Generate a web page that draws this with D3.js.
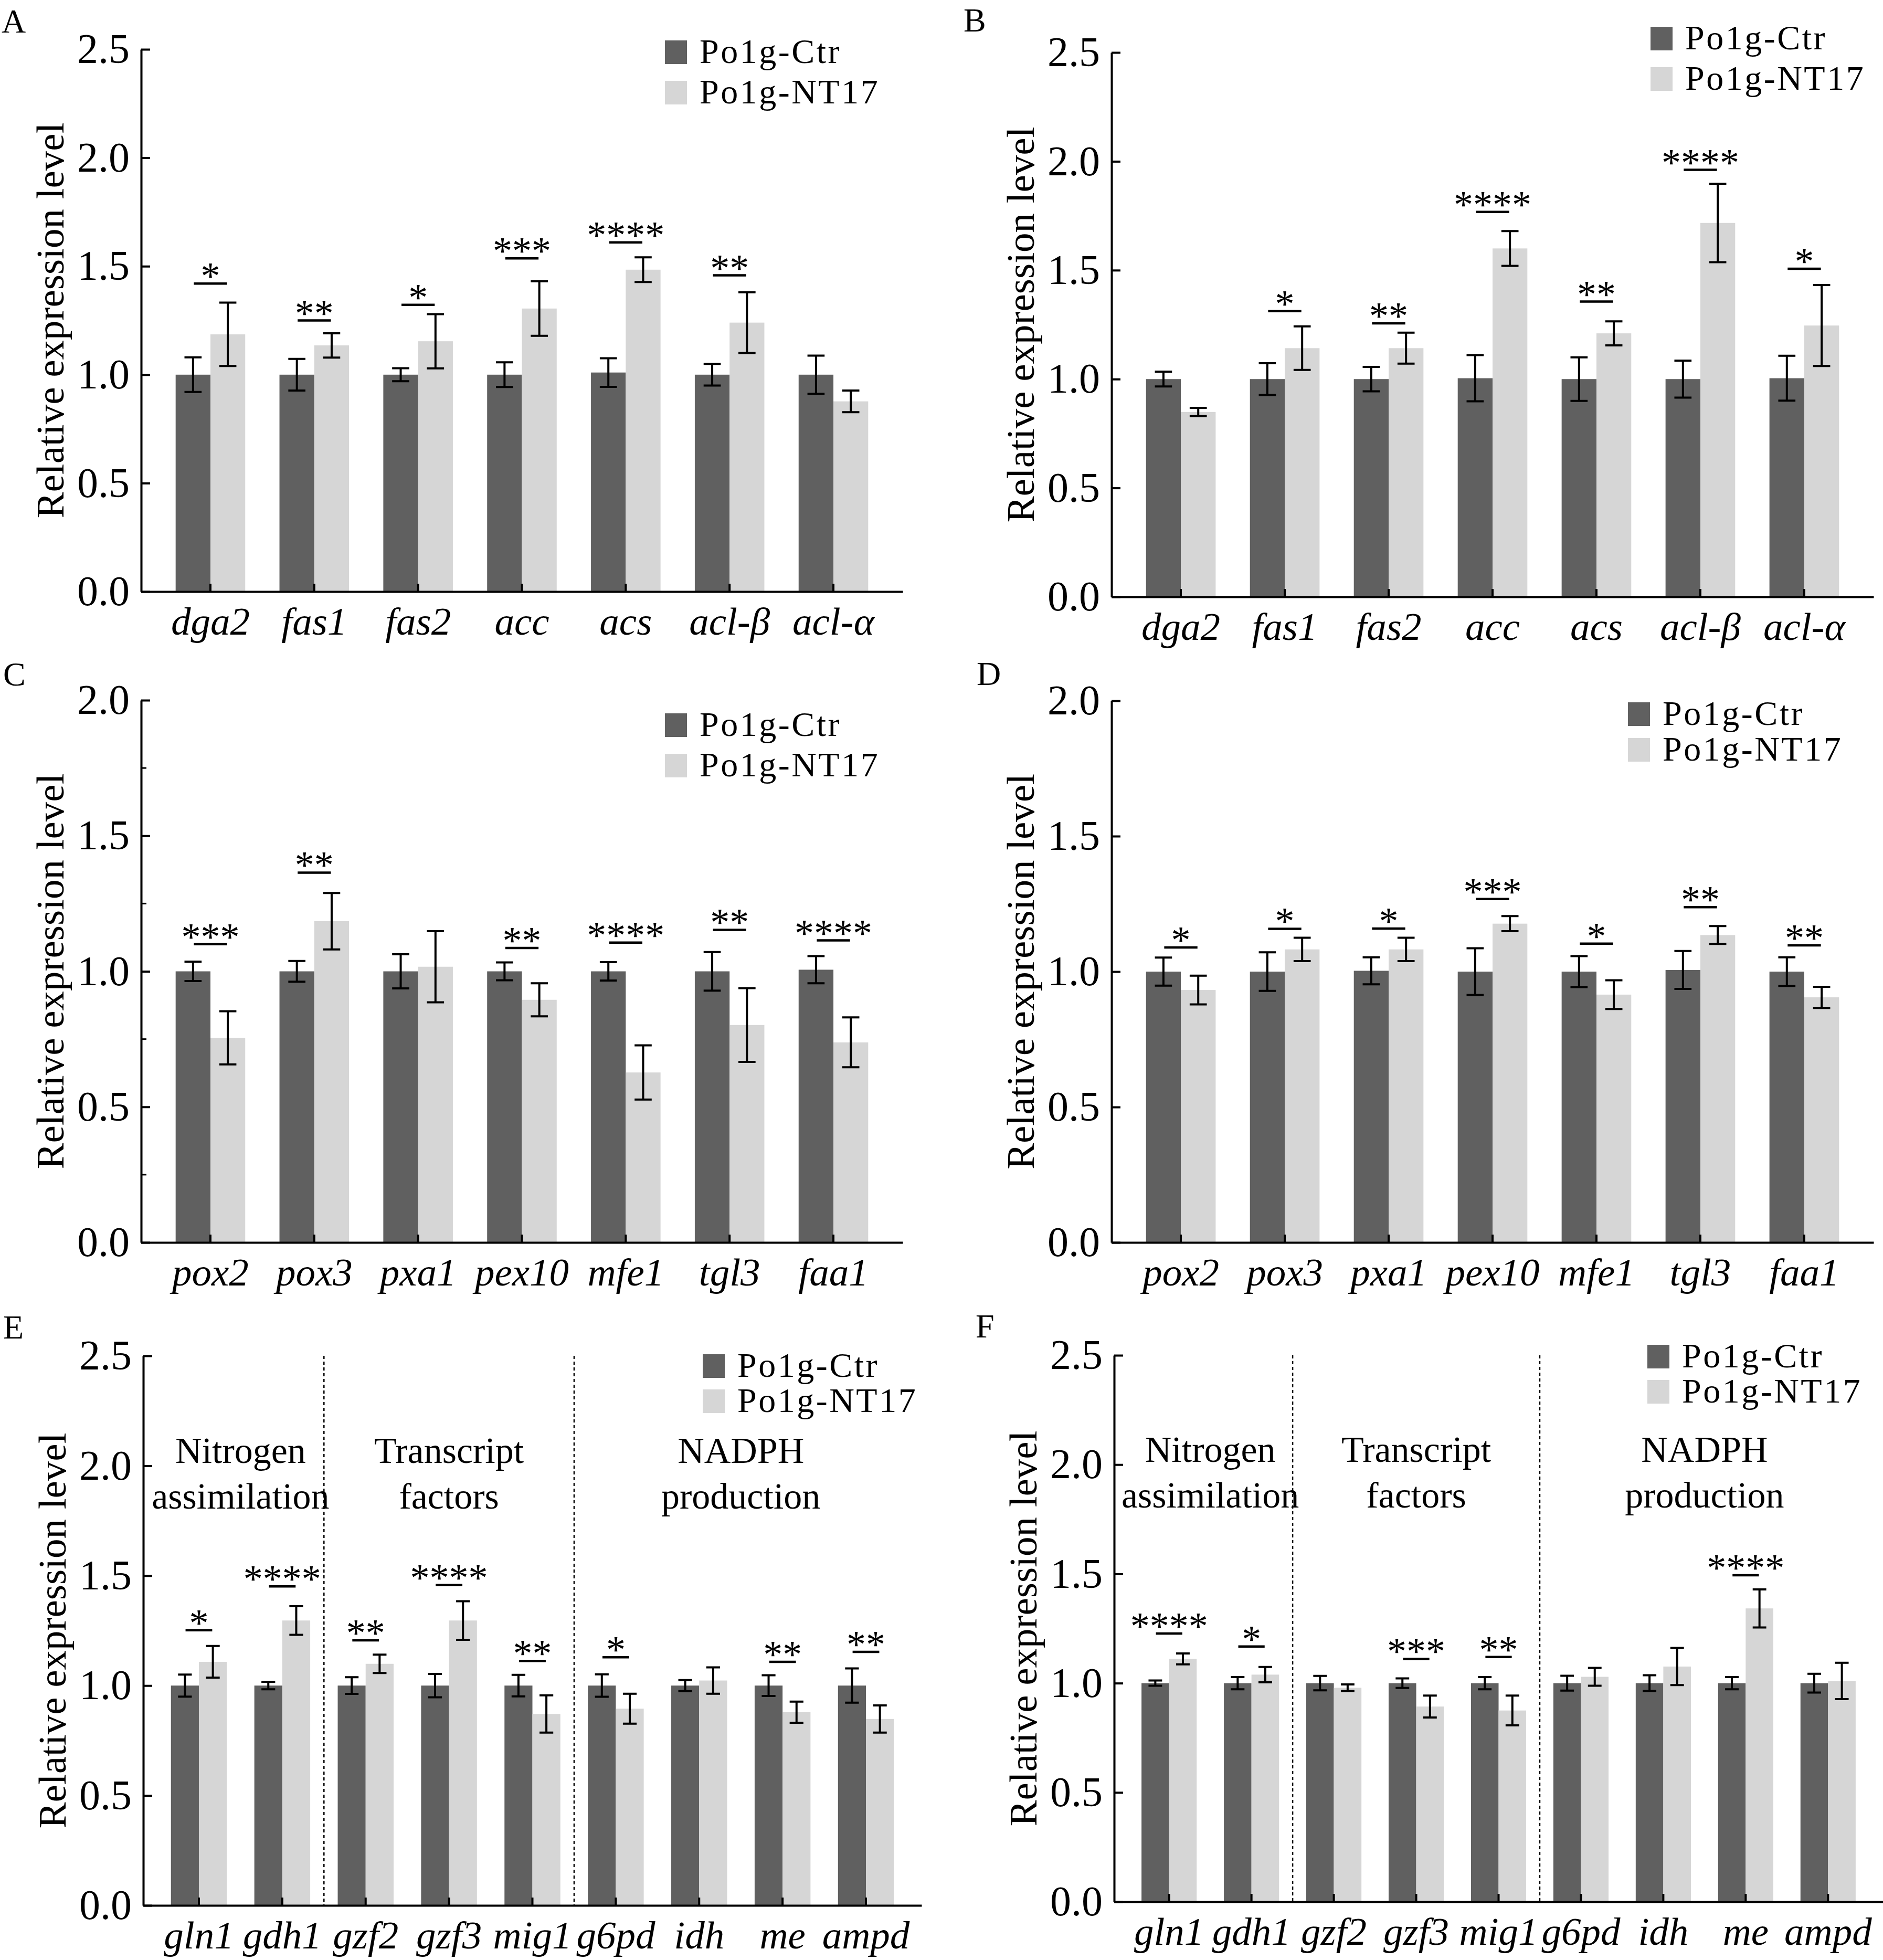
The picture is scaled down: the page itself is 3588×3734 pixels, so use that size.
<!DOCTYPE html>
<html>
<head>
<meta charset="utf-8">
<title>Relative expression</title>
<style>
  body { margin: 0; background: #fff; }
  svg, svg text { font-family: 'Liberation Serif', 'Times New Roman', Times, serif !important; }
  .tick line, .domain { stroke: #000; stroke-width: 4; }
</style>
</head>
<body>
<svg width="3588" height="3734" font-family="Liberation Serif, Times New Roman, serif"></svg>
<script src="https://d3js.org/d3.v7.min.js"></script>
<script>
// ---- data ----
const genesAB = ['dga2', 'fas1', 'fas2', 'acc', 'acs', 'acl-β', 'acl-α'];
const genesCD = ['pox2', 'pox3', 'pxa1', 'pex10', 'mfe1', 'tgl3', 'faa1'];
const genesEF = ['gln1', 'gdh1', 'gzf2', 'gzf3', 'mig1', 'g6pd', 'idh', 'me', 'ampd'];
const seriesNames = ['Po1g-Ctr', 'Po1g-NT17'];
const groupNames = [['Nitrogen', 'assimilation'], ['Transcript', 'factors'], ['NADPH', 'production']];
const groupSpans = [[0, 1], [2, 4], [5, 8]];
const ticks25 = [0, 0.5, 1.0, 1.5, 2.0, 2.5];
const ticks20 = [0, 0.5, 1.0, 1.5, 2.0];

const ctrA    = [1.00, 1.00, 1.00, 1.00, 1.01, 1.00, 1.00];
const ctrErrA = [0.080, 0.073, 0.030, 0.057, 0.066, 0.050, 0.088];
const ntA     = [1.186, 1.135, 1.154, 1.305, 1.484, 1.240, 0.877];
const ntErrA  = [0.146, 0.056, 0.125, 0.126, 0.057, 0.140, 0.050];
const sigA    = ['*', '**', '*', '***', '****', '**', ''];
const sigYA   = [1.42, 1.25, 1.322, 1.536, 1.61, 1.458, null];

const ctrB    = [1.00, 1.00, 1.00, 1.004, 1.00, 1.00, 1.004];
const ctrErrB = [0.034, 0.073, 0.056, 0.106, 0.100, 0.085, 0.103];
const ntB     = [0.849, 1.142, 1.142, 1.600, 1.210, 1.717, 1.246];
const ntErrB  = [0.019, 0.100, 0.071, 0.080, 0.055, 0.180, 0.186];
const sigB    = ['', '*', '**', '****', '**', '****', '*'];
const sigYB   = [null, 1.312, 1.256, 1.768, 1.356, 1.961, 1.507];

const ctrC    = [1.00, 1.00, 1.00, 1.00, 1.00, 1.00, 1.006];
const ctrErrC = [0.036, 0.038, 0.063, 0.033, 0.034, 0.071, 0.050];
const ntC     = [0.755, 1.185, 1.017, 0.895, 0.627, 0.802, 0.738];
const ntErrC  = [0.098, 0.104, 0.131, 0.061, 0.100, 0.136, 0.092];
const sigC    = ['***', '**', '', '**', '****', '**', '****'];
const sigYC   = [1.10, 1.364, null, 1.086, 1.106, 1.153, 1.114];

const ctrD    = [1.00, 1.00, 1.003, 1.00, 1.00, 1.006, 1.00];
const ctrErrD = [0.052, 0.071, 0.050, 0.086, 0.057, 0.070, 0.053];
const ntD     = [0.932, 1.082, 1.082, 1.177, 0.915, 1.135, 0.905];
const ntErrD  = [0.053, 0.043, 0.043, 0.028, 0.053, 0.033, 0.039];
const sigD    = ['*', '*', '*', '***', '*', '**', '**'];
const sigYD   = [1.089, 1.158, 1.159, 1.268, 1.103, 1.238, 1.097];

const ctrE    = [1.00, 1.00, 1.00, 1.00, 1.00, 1.00, 1.00, 1.00, 1.00];
const ctrErrE = [0.050, 0.017, 0.038, 0.053, 0.049, 0.051, 0.025, 0.047, 0.078];
const ntE     = [1.108, 1.296, 1.099, 1.296, 0.871, 0.895, 1.023, 0.879, 0.848];
const ntErrE  = [0.072, 0.065, 0.042, 0.088, 0.085, 0.068, 0.060, 0.048, 0.062];
const sigE    = ['*', '****', '**', '****', '**', '*', '', '**', '**'];
const sigYE   = [1.252, 1.451, 1.206, 1.457, 1.112, 1.129, null, 1.108, 1.153];

const ctrF    = [1.00, 1.00, 1.00, 1.00, 1.00, 1.00, 1.00, 1.00, 1.00];
const ctrErrF = [0.012, 0.028, 0.033, 0.022, 0.028, 0.034, 0.036, 0.028, 0.043];
const ntF     = [1.111, 1.039, 0.979, 0.893, 0.875, 1.029, 1.076, 1.342, 1.010];
const ntErrF  = [0.025, 0.035, 0.015, 0.050, 0.068, 0.041, 0.085, 0.087, 0.083];
const sigF    = ['****', '*', '', '***', '**', '', '', '****', ''];
const sigYF   = [1.227, 1.168, null, 1.111, 1.12, null, null, 1.494, null];

// ---- layout ----
const dark = '#606060', light = '#d6d6d6';
const serif = 'Liberation Serif, Times New Roman, serif';
const svg = d3.select('svg');

const panels = [
  { label: 'A', lx: 3, ly: 62, x0: 269, x1: 1720, yTop: 94, y0: 1127, yMax: 2.5, ticks: ticks25,
    genes: genesAB, ctr: ctrA, ctrErr: ctrErrA, nt: ntA, ntErr: ntErrA, sig: sigA, sigY: sigYA,
    leg: { x: 1267, y: 77, row: 77 } },
  { label: 'B', lx: 1836, ly: 60, x0: 2118, x1: 3570, yTop: 100, y0: 1137, yMax: 2.5, ticks: ticks25,
    genes: genesAB, ctr: ctrB, ctrErr: ctrErrB, nt: ntB, ntErr: ntErrB, sig: sigB, sigY: sigYB,
    leg: { x: 3145, y: 51, row: 77 } },
  { label: 'C', lx: 6, ly: 1306, x0: 269, x1: 1720, yTop: 1334, y0: 2367, yMax: 2.0, ticks: ticks20, minor: true,
    genes: genesCD, ctr: ctrC, ctrErr: ctrErrC, nt: ntC, ntErr: ntErrC, sig: sigC, sigY: sigYC,
    leg: { x: 1267, y: 1359, row: 77 } },
  { label: 'D', lx: 1861, ly: 1305, x0: 2118, x1: 3570, yTop: 1335, y0: 2367, yMax: 2.0, ticks: ticks20,
    genes: genesCD, ctr: ctrD, ctrErr: ctrErrD, nt: ntD, ntErr: ntErrD, sig: sigD, sigY: sigYD,
    leg: { x: 3102, y: 1338, row: 68 } },
  { label: 'E', lx: 6, ly: 2550, x0: 273, x1: 1756, yTop: 2583, y0: 3630, yMax: 2.5, ticks: ticks25, groups: true,
    genes: genesEF, ctr: ctrE, ctrErr: ctrErrE, nt: ntE, ntErr: ntErrE, sig: sigE, sigY: sigYE,
    leg: { x: 1339, y: 2580, row: 67 } },
  { label: 'F', lx: 1859, ly: 2548, x0: 2123, x1: 3588, yTop: 2582, y0: 3623, yMax: 2.5, ticks: ticks25, groups: true,
    genes: genesEF, ctr: ctrF, ctrErr: ctrErrF, nt: ntF, ntErr: ntErrF, sig: sigF, sigY: sigYF,
    leg: { x: 3139, y: 2562, row: 67 } }
];

const drawPanel = p => {
  const g = svg.append('g').attr('font-family', serif);
  const x = d3.scaleBand().domain(p.genes).range([p.x0, p.x1]).paddingInner(0).paddingOuter(0.167);
  const y = d3.scaleLinear().domain([0, p.yMax]).range([p.y0, p.yTop]);
  const step = x.bandwidth();
  const bw = step * 0.335;
  const cap = step * 0.165;
  const cx = d => x(d) + step / 2;

  const rows = p.genes.map((gene, i) => ({
    gene, ctr: p.ctr[i], ctrErr: p.ctrErr[i], nt: p.nt[i], ntErr: p.ntErr[i], sig: p.sig[i], sigY: p.sigY[i]
  }));

  // dotted separators + group titles
  if (p.groups) {
    groupSpans.forEach((span, k) => {
      if (k > 0) {
        const xs = x(p.genes[span[0]]);
        g.append('line')
          .attr('x1', xs).attr('x2', xs).attr('y1', y(p.yMax)).attr('y2', y(0))
          .attr('stroke', '#000').attr('stroke-width', 2.5).attr('stroke-dasharray', '6,5');
      }
      const mid = (cx(p.genes[span[0]]) + cx(p.genes[span[1]])) / 2;
      const t = g.append('text').attr('text-anchor', 'middle').attr('font-size', 70).attr('font-family', serif);
      t.append('tspan').attr('x', mid).attr('y', y(2.0) - 5).text(groupNames[k][0]);
      t.append('tspan').attr('x', mid).attr('y', y(2.0) + 82).text(groupNames[k][1]);
    });
  }

  // bars
  g.selectAll('rect.ctr').data(rows).join('rect').attr('class', 'ctr')
    .attr('x', d => cx(d.gene) - bw).attr('width', bw)
    .attr('y', d => y(d.ctr)).attr('height', d => y(0) - y(d.ctr))
    .attr('fill', dark);
  g.selectAll('rect.nt').data(rows).join('rect').attr('class', 'nt')
    .attr('x', d => cx(d.gene)).attr('width', bw)
    .attr('y', d => y(d.nt)).attr('height', d => y(0) - y(d.nt))
    .attr('fill', light);

  // error bars
  const errs = rows.flatMap(d => [
    { x: cx(d.gene) - bw / 2, v: d.ctr, e: d.ctrErr },
    { x: cx(d.gene) + bw / 2, v: d.nt, e: d.ntErr }
  ]);
  const eg = g.append('g').attr('stroke', '#000').attr('stroke-width', 4);
  eg.selectAll('path').data(errs).join('path')
    .attr('fill', 'none')
    .attr('d', d => {
      const t = y(d.v + d.e), b = y(d.v - d.e);
      return `M${d.x},${t}V${b}M${d.x - cap / 2},${t}H${d.x + cap / 2}M${d.x - cap / 2},${b}H${d.x + cap / 2}`;
    });

  // significance marks
  const sig = rows.filter(d => d.sig);
  g.selectAll('line.sig').data(sig).join('line').attr('class', 'sig')
    .attr('x1', d => cx(d.gene) - step * 0.16).attr('x2', d => cx(d.gene) + step * 0.16)
    .attr('y1', d => y(d.sigY)).attr('y2', d => y(d.sigY))
    .attr('stroke', '#000').attr('stroke-width', 4.5);
  g.selectAll('text.sig').data(sig).join('text').attr('class', 'sig')
    .attr('x', d => cx(d.gene)).attr('y', d => y(d.sigY) + 11)
    .attr('text-anchor', 'middle').attr('font-size', 74).attr('font-family', serif)
    .text(d => d.sig);

  // axes
  const yAxis = d3.axisLeft(y).tickValues(p.ticks).tickFormat(d3.format('.1f'))
    .tickSizeInner(-17).tickSizeOuter(0).tickPadding(22);
  const ya = g.append('g').attr('transform', `translate(${p.x0},0)`).call(yAxis);
  ya.attr('font-family', serif).attr('font-size', 80);
  ya.selectAll('text').attr('font-size', 80).attr('font-family', serif);
  if (p.minor) {
    const minorTicks = p.ticks.slice(0, -1).map(v => v + 0.25);
    g.selectAll('line.minor').data(minorTicks).join('line').attr('class', 'minor')
      .attr('x1', p.x0).attr('x2', p.x0 + 10)
      .attr('y1', d => y(d)).attr('y2', d => y(d))
      .attr('stroke', '#000').attr('stroke-width', 3);
  }

  const xAxis = d3.axisBottom(x).tickSizeInner(-15).tickSizeOuter(0).tickPadding(29);
  const xa = g.append('g').attr('transform', `translate(0,${p.y0})`).call(xAxis);
  xa.attr('font-family', serif).attr('font-size', 75);
  xa.selectAll('text').attr('font-size', 75).attr('font-style', 'italic').attr('font-family', serif);

  // y title
  g.append('text')
    .attr('transform', `translate(${p.x0 - 148},${(p.yTop + p.y0) / 2}) rotate(-90)`)
    .attr('text-anchor', 'middle').attr('font-size', 75).attr('font-family', serif)
    .text('Relative expression level');

  // panel letter
  g.append('text').attr('x', p.lx).attr('y', p.ly).attr('font-size', 64).attr('font-family', serif).text(p.label);

  // legend
  const lg = g.append('g').attr('transform', `translate(${p.leg.x},${p.leg.y})`);
  seriesNames.forEach((name, i) => {
    lg.append('rect').attr('x', 0).attr('y', i * p.leg.row).attr('width', 42).attr('height', 45)
      .attr('fill', i === 0 ? dark : light);
    lg.append('text').attr('x', 66).attr('y', i * p.leg.row + 43)
      .attr('font-size', 66).attr('letter-spacing', 3.5).attr('font-family', serif).text(name);
  });
};

panels.forEach(drawPanel);
</script>
</body>
</html>
